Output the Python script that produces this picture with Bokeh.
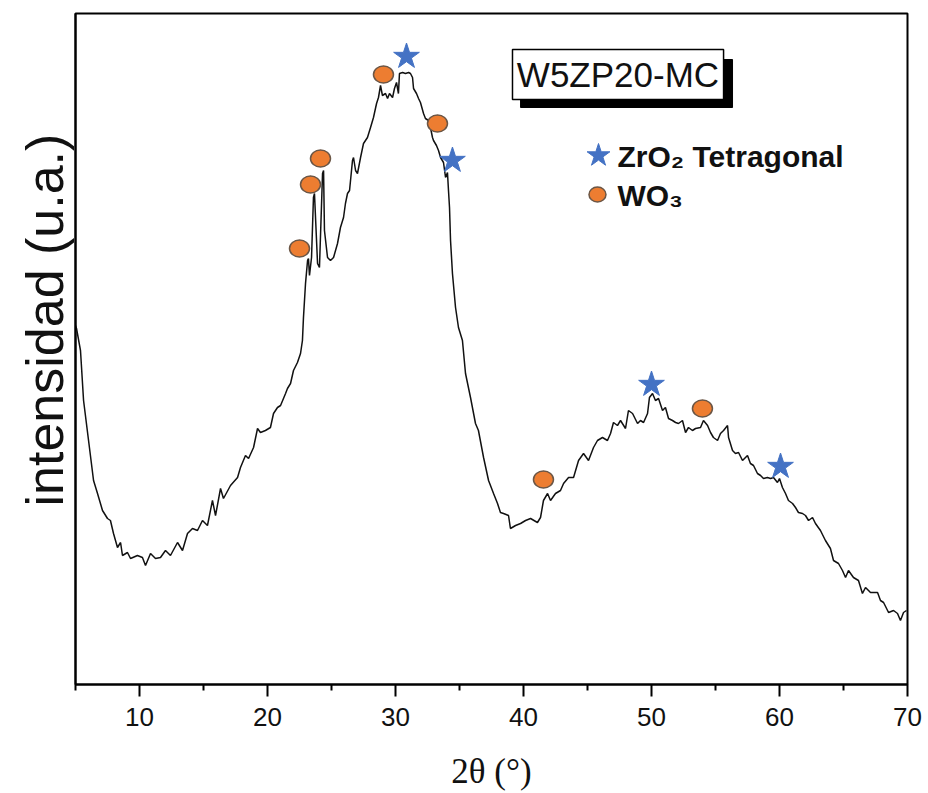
from bokeh.plotting import figure
from bokeh.models import Range1d, FixedTicker, Title
from bokeh.embed import file_html
from bokeh.resources import INLINE
from bokeh.core.properties import value

# XRD pattern W5ZP20-MC (2theta in degrees, intensity in arbitrary units)
two_theta = [
    5.00, 5.08, 5.39, 5.63, 6.02, 6.41, 6.72, 7.11, 7.50, 7.73, 7.97, 8.28, 8.52, 8.67,
    9.06, 9.30, 9.84, 10.23, 10.47, 10.86, 11.25, 11.64, 12.03, 12.42, 12.97, 13.36,
    13.75, 14.14, 14.53, 14.92, 15.31, 15.70, 15.94, 16.33, 16.56, 17.11, 17.66, 17.89,
    18.28, 18.52, 18.91, 19.22, 19.45, 19.84, 20.23, 20.47, 20.78, 21.02, 21.41, 21.56,
    21.80, 22.03, 22.34, 22.58, 22.73, 22.81, 22.97, 23.13, 23.20, 23.28, 23.44, 23.59,
    23.67, 23.91, 24.06, 24.30, 24.38, 24.45, 24.69, 24.92, 25.16, 25.47, 25.70, 25.94,
    26.09, 26.25, 26.41, 26.64, 26.72, 26.88, 27.03, 27.27, 27.50, 27.81, 28.05, 28.28,
    28.52, 28.67, 28.83, 28.98, 29.22, 29.38, 29.53, 29.77, 29.92, 30.08, 30.23, 30.31,
    30.55, 30.78, 31.02, 31.17, 31.33, 31.41, 31.64, 31.80, 31.95, 32.19, 32.34, 32.58,
    32.73, 32.89, 32.97, 33.20, 33.36, 33.52, 33.75, 33.91, 34.06, 34.14, 34.22, 34.30,
    34.45, 34.69, 34.92, 35.23, 35.47, 35.86, 36.25, 36.48, 36.88, 37.27, 37.66, 37.97,
    38.20, 38.44, 38.83, 38.98, 39.38, 39.77, 40.16, 40.55, 41.09, 41.33, 41.56, 41.88,
    42.11, 42.50, 42.89, 43.13, 43.52, 43.91, 44.30, 44.69, 45.08, 45.47, 45.78, 46.17,
    46.56, 46.80, 47.03, 47.34, 47.58, 47.97, 48.20, 48.52, 48.91, 49.14, 49.38, 49.69,
    49.84, 50.08, 50.31, 50.55, 50.86, 51.09, 51.33, 51.64, 51.88, 52.11, 52.42, 52.66,
    52.89, 53.20, 53.44, 53.83, 54.06, 54.38, 54.61, 54.84, 55.16, 55.39, 55.63, 55.94,
    56.02, 56.33, 56.56, 56.80, 57.11, 57.50, 57.73, 57.97, 58.28, 58.52, 58.75, 59.06,
    59.30, 59.53, 59.84, 60.00, 60.23, 60.47, 60.70, 61.02, 61.25, 61.48, 61.80, 62.03,
    62.27, 62.58, 62.81, 63.20, 63.59, 63.98, 64.22, 64.61, 64.92, 65.16, 65.39, 65.78,
    66.17, 66.48, 66.72, 67.11, 67.66, 67.89, 68.13, 68.52, 68.91, 69.22, 69.45, 69.69,
    69.92,
]
intensity = [
    359, 356, 334, 284, 244, 204, 191, 174, 166, 164, 151, 137, 142, 129,
    132, 126, 129, 127, 119, 131, 126, 127, 134, 129, 142, 134,
    151, 156, 154, 164, 159, 184, 169, 196, 186, 199, 207, 217,
    229, 226, 237, 256, 252, 254, 257, 271, 277, 279, 291, 296,
    301, 314, 322, 331, 344, 367, 401, 424, 426, 409, 427, 487,
    491, 421, 417, 511, 514, 454, 427, 424, 427, 441, 457, 467,
    481, 491, 494, 524, 527, 514, 511, 527, 541, 547, 557, 567,
    581, 587, 599, 589, 591, 586, 591, 587, 596, 602, 591, 611,
    612, 611, 612, 611, 607, 596, 591, 586, 582, 571, 566, 564,
    557, 547, 544, 539, 534, 527, 522, 507, 512, 494, 477, 444,
    411, 377, 357, 344, 311, 287, 261, 254, 227, 204, 191, 181,
    172, 171, 169, 156, 159, 161, 164, 166, 162, 167, 184, 191,
    184, 191, 194, 201, 207, 207, 224, 231, 224, 237, 244, 247,
    244, 251, 262, 259, 264, 256, 274, 271, 261, 264, 262, 271,
    287, 291, 284, 286, 274, 277, 266, 264, 262, 261, 264, 252,
    257, 254, 256, 257, 264, 259, 252, 247, 244, 251, 254, 259,
    247, 234, 231, 232, 224, 229, 221, 219, 211, 209, 206, 207,
    206, 207, 202, 206, 197, 191, 184, 181, 177, 172, 171, 169,
    164, 167, 161, 154, 144, 136, 124, 121, 114, 107, 114, 107,
    104, 91, 97, 92, 92, 84, 82, 72, 74, 71, 64, 72,
    74,
]

# Phase markers
wo3_x = [22.50, 23.36, 24.14, 29.06, 33.28, 41.56, 53.98]
wo3_y = [436, 500, 526, 610, 561, 205, 276]
zro2_x = [30.86, 34.45, 50.00, 60.08]
zro2_y = [628, 524, 300, 218]

x_ticks = [10, 20, 30, 40, 50, 60, 70]
x_minor = [5, 15, 25, 35, 45, 55, 65]

sample_name = "W5ZP20-MC"
legend_labels = ["ZrO\u2082 Tetragonal", "WO\u2083"]
x_title = "2\u03b8 (\u00b0)"
y_title = "intensidad (u.a.)"

BLUE = "#4472C4"
ORANGE = "#ED7D31"

p = figure(width=928, height=793, output_backend="svg", toolbar_location=None,
           x_range=Range1d(5, 70), y_range=Range1d(0, 671),
           min_border_left=75, min_border_right=21, min_border_top=13,
           min_border_bottom=109)
p.grid.visible = False
p.background_fill_color = "white"
p.border_fill_color = "white"
p.outline_line_color = "black"
p.outline_line_width = 2

xa = p.xaxis[0]
xa.ticker = FixedTicker(ticks=x_ticks, minor_ticks=x_minor)
xa.axis_line_width = 2
xa.major_tick_line_width = 2
xa.minor_tick_line_width = 2
xa.major_tick_in = 0
xa.major_tick_out = 12
xa.minor_tick_in = 0
xa.minor_tick_out = 6
xa.major_label_standoff = 11
xa.major_label_text_font = "Liberation Sans"
xa.major_label_text_font_size = "26px"
xa.major_label_text_color = "#111111"
xa.axis_label = x_title
xa.axis_label_text_font = "Liberation Serif"
xa.axis_label_text_font_size = "35px"
xa.axis_label_text_font_style = "normal"
xa.axis_label_text_color = "#111111"
xa.axis_label_standoff = 23

ya = p.yaxis[0]
ya.ticker = FixedTicker(ticks=[])
ya.axis_line_width = 2
ya.major_tick_in = 0
ya.major_tick_out = 40
ya.major_tick_line_color = None
ya.minor_tick_line_color = None
ya.major_label_text_font_size = "0px"

ytitle = Title(text=y_title, align="left", offset=178, vertical_align="top",
               text_font="Liberation Sans", text_font_size="52px",
               text_font_style="normal", text_color="#111111")
if "standoff" in Title.properties():
    ytitle.standoff = 0
p.add_layout(ytitle, "left")

# pattern
p.line(two_theta, intensity, line_color="#111111", line_width=1.5)

# markers
p.ellipse(wo3_x, wo3_y, width=20, height=17, width_units="screen",
          height_units="screen", fill_color=ORANGE, line_color="#6b5646",
          line_width=1.5)
p.scatter(zro2_x, zro2_y, marker="star", size=27, fill_color=BLUE,
          line_color=BLUE, line_width=1)

# sample name box with shadow
p.quad(left=[39.77], right=[56.33], top=[625], bottom=[577],
       fill_color="black", line_color="black")
p.quad(left=[39.14], right=[55.63], top=[635], bottom=[585],
       fill_color="white", line_color="black", line_width=1.5)
p.text(x=[47.38], y=[610], text=[sample_name], text_font=value("Liberation Sans"),
       text_font_size="35px", text_align="center", text_baseline="middle",
       text_color="#111111")

# legend
p.scatter([45.86], [529], marker="star", size=24, fill_color=BLUE, line_color=BLUE)
p.ellipse([45.78], [490], width=17, height=15, width_units="screen",
          height_units="screen", fill_color=ORANGE, line_color="#6b5646",
          line_width=1.5)
p.text(x=[47.34, 47.34], y=[528, 489], text=legend_labels,
       text_font=value("Liberation Sans"), text_font_style="bold",
       text_font_size="30px", text_align="left", text_baseline="middle",
       text_color="#111111")

open("out.html", "w").write(file_html(p, INLINE))
